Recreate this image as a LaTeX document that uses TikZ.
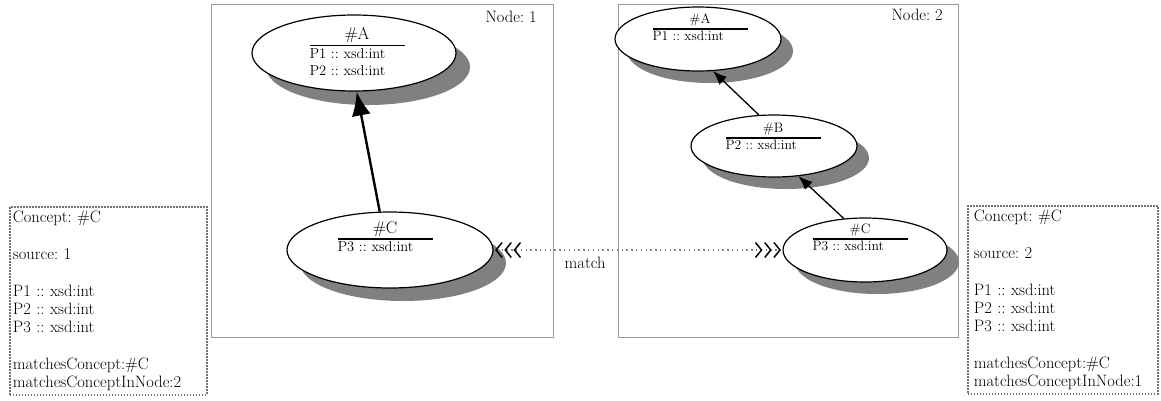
\documentclass[tikz,border=0pt]{standalone}
\usetikzlibrary{shapes.geometric,shadows,arrows.meta}
\setlength{\arrayrulewidth}{1.4pt}
\begin{document}
\frenchspacing
\begin{tikzpicture}[x=1pt,y=-1pt,
  frame/.style={draw=black!40,line width=0.9pt,inner sep=0pt,anchor=north west},
  concept/.style={ellipse,draw,line width=1.2pt,fill=white,inner sep=0pt},
  shd/.style={drop shadow={shadow xshift=#1,shadow yshift=-#1,opacity=1,fill=black!50}},
  ctextA/.style={inner sep=0pt,font=\fontsize{14.5}{17}\selectfont},
  ctextB/.style={inner sep=0pt,font=\fontsize{13.6}{16}\selectfont},
  lbl/.style={inner sep=0pt,font=\fontsize{16.5}{18}\selectfont},
  infobox/.style={draw=black!55,line width=1.8pt,dash pattern=on 1.5pt off 1.5pt,anchor=north west,align=left,inner ysep=4pt,font=\fontsize{16.5}{18}\selectfont},
  isa/.style={line width=1.3pt,-{Latex[length=14pt,width=11pt]}},
  bigisa/.style={line width=2.4pt,-{Latex[length=24pt,width=19pt]}},
  matchline/.style={draw=black!50,line width=1.4pt,dash pattern=on 1.4pt off 3.4pt,
    {Straight Barb[length=6pt,width=15pt,line width=1.5pt,color=black,sep=1.5pt]Straight Barb[length=6pt,width=15pt,line width=1.5pt,color=black,sep=1.5pt]Straight Barb[length=6pt,width=15pt,line width=1.5pt,color=black,sep=1.5pt]}-{Straight Barb[length=6pt,width=15pt,line width=1.5pt,color=black,sep=1.5pt]Straight Barb[length=6pt,width=15pt,line width=1.5pt,color=black,sep=1.5pt]Straight Barb[length=6pt,width=15pt,line width=1.5pt,color=black,sep=1.5pt]}}
]
\useasboundingbox (0,0) rectangle (1161,400);

% frames
\node[frame,draw,minimum width=342pt,minimum height=333pt] (f1) at (211,4) {};
\node[frame,draw,minimum width=340pt,minimum height=333pt] (f2) at (618,4) {};
\node[lbl,anchor=north east] (f1l) at (537,11) {Node: 1};
\node[lbl,anchor=north east] (f2l) at (943,9) {Node: 2};

% node 1 concepts
\node[concept,shd=14pt,minimum width=204pt,minimum height=76pt] (a1) at (354,53) {};
\node[ctextA] (a1t) at (357,54) {\begin{tabular}{@{}p{95pt}@{}}\multicolumn{1}{@{}c@{}}{\fontsize{17}{17}\selectfont\#A}\\\hline P1 :: xsd:int\\ P2 :: xsd:int\end{tabular}};
\node[concept,shd=13pt,minimum width=206pt,minimum height=76pt] (c1) at (390,250) {};
\node[ctextA] (c1t) at (385,239) {\begin{tabular}{@{}p{95pt}@{}}\multicolumn{1}{@{}c@{}}{\fontsize{17}{17}\selectfont\#C}\\\hline P3 :: xsd:int\end{tabular}};

% node 2 concepts
\node[concept,shd=12pt,minimum width=166pt,minimum height=64pt] (a2) at (698,39) {};
\node[ctextB] (a2t) at (700,29) {\begin{tabular}{@{}p{95pt}@{}}\multicolumn{1}{@{}c@{}}{\#A}\\\hline P1 :: xsd:int\end{tabular}};
\node[concept,shd=12pt,minimum width=166pt,minimum height=62pt] (b2) at (774,146) {};
\node[ctextB] (b2t) at (773,138) {\begin{tabular}{@{}p{95pt}@{}}\multicolumn{1}{@{}c@{}}{\#B}\\\hline P2 :: xsd:int\end{tabular}};
\node[concept,shd=12pt,minimum width=164pt,minimum height=64pt] (c2) at (865,250) {};
\node[ctextB] (c2t) at (860,239) {\begin{tabular}{@{}p{95pt}@{}}\multicolumn{1}{@{}c@{}}{\#C}\\\hline P3 :: xsd:int\end{tabular}};

% connectors
\draw[bigisa] (c1.105) -- (a1.-86);
\draw[isa] (b2.116) -- (a2.-65);
\draw[isa] (c2.124) -- (b2.-51);
\draw[matchline] (c1.east) -- node[lbl,pos=0.317,below=6pt] (m) {match} (c2.west);

% info boxes
\node[infobox,inner xsep=3pt,text width=191pt] (i1) at (9,206) {Concept: \#C\\[19pt]source: 1\\[19pt]P1 :: xsd:int\\P2 :: xsd:int\\P3 :: xsd:int\\[19pt]matchesConcept:\#C\\matchesConceptInNode:2};
\node[infobox,inner xsep=6pt,text width=178pt] (i2) at (967,205) {Concept: \#C\\[19pt]source: 2\\[19pt]P1 :: xsd:int\\P2 :: xsd:int\\P3 :: xsd:int\\[19pt]matchesConcept:\#C\\matchesConceptInNode:1};
\end{tikzpicture}
\end{document}
